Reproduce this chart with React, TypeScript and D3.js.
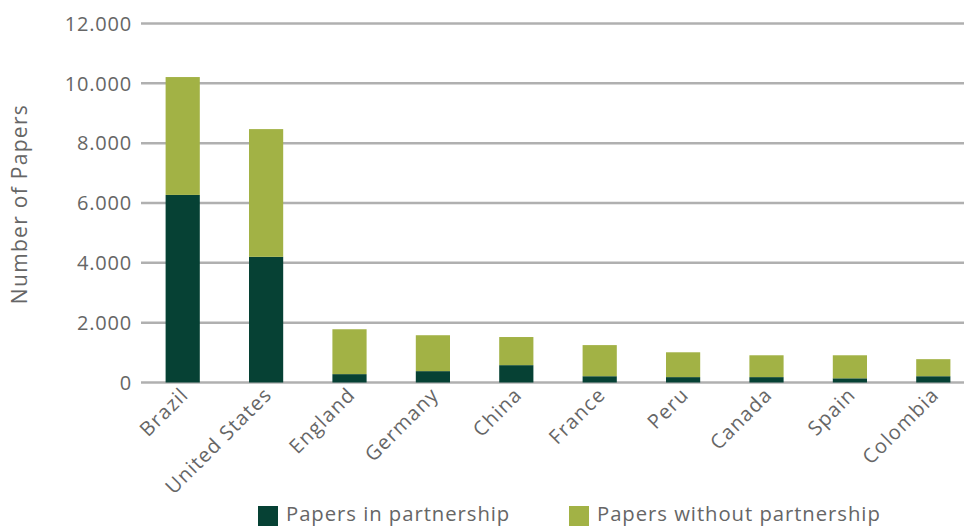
import React from "react";
import * as d3 from "d3";

const categories = ["Brazil", "United States", "England", "Germany", "China", "France", "Peru", "Canada", "Spain", "Colombia"];
const inPartnership = [6270, 4200, 280, 380, 580, 210, 180, 180, 140, 210];
const withoutPartnership = [3940, 4270, 1500, 1200, 940, 1040, 830, 730, 770, 570];
const yTicks = [0, 2000, 4000, 6000, 8000, 10000, 12000];
const seriesNames = ["Papers in partnership", "Papers without partnership"];
const colors = ["#064134", "#A2B245"];

const W = 964;
const H = 527;
const FONT = "'Open Sans', sans-serif";

export default function App() {
  const x = d3.scaleBand<string>().domain(categories).range([141, 975]).paddingInner(0.59).paddingOuter(0.295);
  const y = d3.scaleLinear().domain([0, 12000]).range([382.5, 23.5]);
  const fmt = (v: number) => d3.format(",")(v).replace(/,/g, ".");

  const stack = d3.stack<any>().keys(["a", "b"]);
  const rows = categories.map((c, i) => ({ c, a: inPartnership[i], b: withoutPartnership[i] }));
  const series = stack(rows);

  return (
    <svg width={W} height={H} style={{ position: "absolute", left: 0, top: 0, background: "#fff" }}>
      {yTicks.map((t) => (
        <g key={t}>
          <line x1={141} x2={W} y1={y(t)} y2={y(t)} stroke="#B0B0B0" strokeWidth={2.5} />
          <text x={132} y={y(t)} dy="0.36em" textAnchor="end" fontFamily={FONT} fontSize={20} fill="#666" letterSpacing={0.8}>
            {fmt(t)}
          </text>
        </g>
      ))}
      <text
        transform={`translate(27,204) rotate(-90)`}
        textAnchor="middle"
        fontFamily={FONT}
        fontSize={21}
        fill="#666"
        letterSpacing={1.3}
      >
        Number of Papers
      </text>
      {series.map((s, si) =>
        s.map((d, i) => (
          <rect
            key={`${si}-${i}`}
            x={x(categories[i])}
            width={x.bandwidth()}
            y={y(d[1])}
            height={y(d[0]) - y(d[1])}
            fill={colors[si]}
          />
        ))
      )}
      {categories.map((c) => (
        <text
          key={c}
          transform={`translate(${(x(c) as number) + x.bandwidth() / 2 + 7},396) rotate(-45)`}
          textAnchor="end"
          fontFamily={FONT}
          fontSize={20}
          fill="#666"
          letterSpacing={1.2}
        >
          {c}
        </text>
      ))}
      {seriesNames.map((n, i) => {
        const lx = i === 0 ? 258 : 569;
        return (
          <g key={n}>
            <rect x={lx} y={506} width={20} height={20} fill={colors[i]} />
            <text x={lx + 28} y={521} fontFamily={FONT} fontSize={20.3} fill="#666" letterSpacing={0.95}>
              {n}
            </text>
          </g>
        );
      })}
    </svg>
  );
}
